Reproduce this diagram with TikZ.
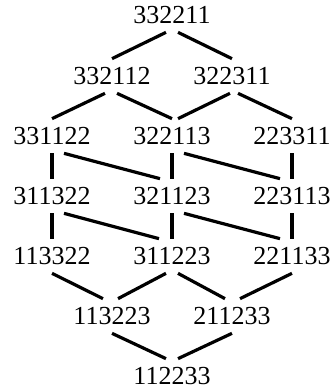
\documentclass[tikz,border=0pt]{standalone}
\usepackage{fontspec}
\setmainfont{Liberation Serif}
\usepackage{tikz}

\begin{document}
\begin{tikzpicture}[x=1pt,y=-1pt,
		perm/.style={inner xsep=0pt,inner ysep=7pt,font=\fontsize{26}{30}\selectfont},
		every path/.style={line width=3.2pt}]
			
			\useasboundingbox (0,0) rectangle (332,392);
			
			\node[perm] (332211) at (172,15) {332211};
			\node[perm] (332112) at (112,76) {332112};
			\node[perm] (322311) at (232,76) {322311};
			\node[perm] (331122) at (52,136) {331122};
			\node[perm] (322113) at (172,136) {322113};
			\node[perm] (223311) at (292,136) {223311};
			\node[perm] (311322) at (52,196) {311322};
			\node[perm] (321123) at (172,196) {321123};
			\node[perm] (223113) at (292,196) {223113};
			\node[perm] (113322) at (52,256) {113322};
			\node[perm] (311223) at (172,256) {311223};
			\node[perm] (221133) at (292,256) {221133};
			\node[perm] (113223) at (112,316) {113223};
			\node[perm] (211233) at (232,316) {211233};
			\node[perm] (112233) at (172,376) {112233};
			
			\draw ([xshift=-6pt]332211.south) -- (332112.north);
			\draw ([xshift=6pt]332211.south) -- (322311.north);
			\draw ([xshift=-7pt]332112.south) -- (331122.north);
			\draw ([xshift=5pt]332112.south) -- (322113.north);
			\draw ([xshift=-2pt]322311.south) -- ([xshift=6pt]322113.north);
			\draw ([xshift=6pt]322311.south) -- (223311.north);
			
			\draw (331122.south) -- (311322.north);
			\draw ([xshift=12pt]331122.south) -- ([xshift=-12pt]321123.north);
			\draw (322113.south) -- (321123.north);
			\draw ([xshift=12pt]322113.south) -- ([xshift=-12pt]223113.north);
			\draw (223311.south) -- (223113.north);
			
			\draw (311322.south) -- (113322.north);
			\draw ([xshift=12pt]311322.south) -- ([xshift=-13pt]311223.north);
			\draw (321123.south) -- (311223.north);
			\draw ([xshift=12pt]321123.south) -- ([xshift=-12pt]221133.north);
			\draw (223113.south) -- (221133.north);
			
			\draw (113322.south) -- ([xshift=-9pt]113223.north);
			\draw ([xshift=-6pt]311223.south) -- ([xshift=6pt]113223.north);
			\draw ([xshift=6pt]311223.south) -- ([xshift=-7pt]211233.north);
			\draw (221133.south) -- ([xshift=8pt]211233.north);
			\draw (113223.south) -- ([xshift=-6pt]112233.north);
			\draw (211233.south) -- ([xshift=6pt]112233.north);
			
		\end{tikzpicture}
\end{document}
